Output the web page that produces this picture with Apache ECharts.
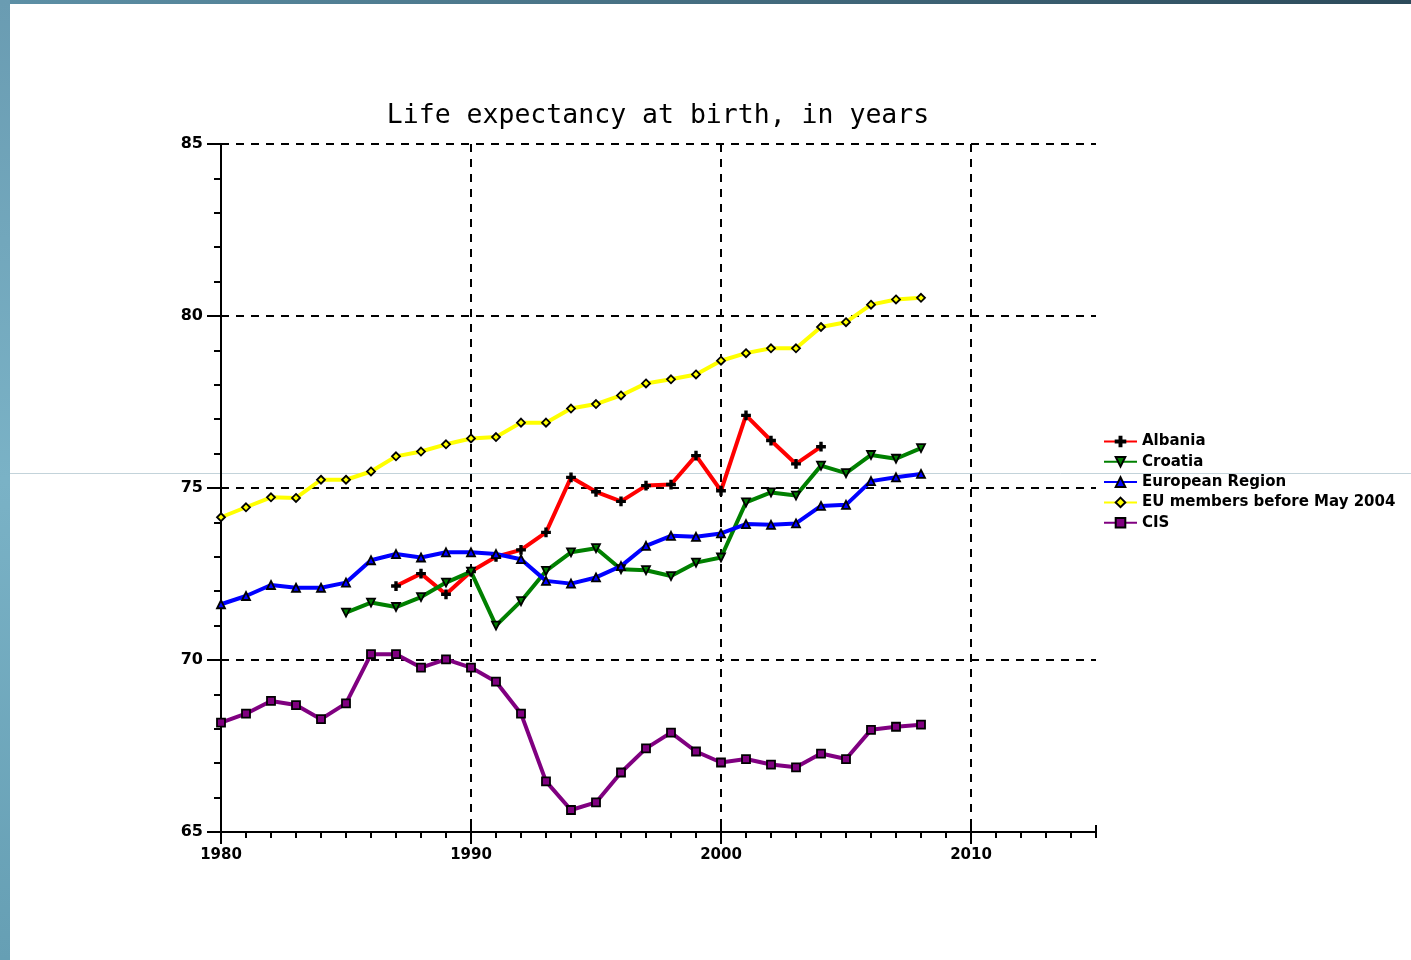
<!DOCTYPE html>
<html>
<head>
<meta charset="utf-8">
<script src="https://cdn.jsdelivr.net/npm/echarts@6/dist/echarts.min.js"></script>
<style>
  html, body { margin: 0; padding: 0; background: #fff; }
  #main { width: 1411px; height: 960px; }
</style>
</head>
<body>
<div id="main"></div>
<script>
var years = [1980, 1981, 1982, 1983, 1984, 1985, 1986, 1987, 1988, 1989,
    1990, 1991, 1992, 1993, 1994, 1995, 1996, 1997, 1998, 1999,
    2000, 2001, 2002, 2003, 2004, 2005, 2006, 2007, 2008];

var albania = [null, null, null, null, null, null, null,
    72.15, 72.51, 71.91, 72.57, 73.0, 73.2, 73.71, 75.31, 74.89, 74.61, 75.07,
    75.1, 75.94, 74.92, 77.11, 76.38, 75.7, 76.2, null, null, null, null];
var croatia = [null, null, null, null, null,
    71.38, 71.67, 71.54, 71.83, 72.25, 72.57, 71.0, 71.71, 72.59, 73.13, 73.25,
    72.64, 72.61, 72.44, 72.83, 72.98, 74.58, 74.87, 74.78, 75.65, 75.43, 75.96,
    75.85, 76.16];
var europeanRegion = [71.62, 71.86, 72.18, 72.1, 72.1, 72.25, 72.9, 73.08, 72.98,
    73.13, 73.13, 73.08, 72.93, 72.3, 72.22, 72.4, 72.73, 73.32, 73.61, 73.58,
    73.68, 73.95, 73.93, 73.97, 74.48, 74.51, 75.2, 75.31, 75.41];
var euBefore2004 = [74.15, 74.44, 74.73, 74.71, 75.24, 75.24, 75.48, 75.92, 76.06,
    76.27, 76.44, 76.48, 76.9, 76.9, 77.31, 77.44, 77.69, 78.04, 78.16, 78.3,
    78.7, 78.92, 79.06, 79.06, 79.68, 79.82, 80.33, 80.48, 80.53];
var cis = [68.18, 68.44, 68.81, 68.69, 68.28, 68.74, 70.17, 70.17, 69.78, 70.02,
    69.78, 69.37, 68.44, 66.47, 65.64, 65.86, 66.73, 67.43, 67.89, 67.34,
    67.02, 67.12, 66.96, 66.88, 67.28, 67.12, 67.97, 68.06, 68.12];

var seriesNames = ["Albania", "Croatia", "European Region", "EU members before May 2004", "CIS"];
var seriesColors = ["#ff0000", "#008000", "#0000ff", "#ffff00", "#800080"];
var seriesSymbols = [
    "path://M4,0H6V4H10V6H6V10H4V6H0V4H4Z",
    "path://M0,0H10L5,10Z",
    "triangle",
    "diamond",
    "rect"
];

function pairs(vals) {
    var out = [];
    for (var i = 0; i < years.length; i++) {
        out.push([years[i], vals[i]]);
    }
    return out;
}

var allValues = [albania, croatia, europeanRegion, euBefore2004, cis];
var series = [];
for (var s = 0; s < seriesNames.length; s++) {
    series.push({
        name: seriesNames[s],
        type: "line",
        xAxisIndex: 0,
        yAxisIndex: 0,
        data: pairs(allValues[s]),
        symbol: seriesSymbols[s],
        symbolSize: 8,
        showAllSymbol: true,
        connectNulls: false,
        lineStyle: { color: seriesColors[s], width: 4 },
        itemStyle: { color: seriesColors[s], borderColor: "#000", borderWidth: 1.8 },
        emphasis: { disabled: true }
    });
}

var tickStyle = { color: "#000", width: 2 };

var myChart = echarts.init(document.getElementById("main"));
var option = {
    backgroundColor: "#fff",
    animation: false,
    title: {
        text: "Life expectancy at birth, in years",
        left: 653,
        top: 98,
        textAlign: "center",
        textStyle: {
            fontFamily: "DejaVu Sans Mono",
            fontWeight: "normal",
            fontSize: 26.5,
            color: "#000"
        }
    },
    graphic: [
        {
            type: "rect",
            z: -10,
            shape: { x: 0, y: 0, width: 1411, height: 4 },
            style: {
                fill: new echarts.graphic.LinearGradient(0, 0, 1, 0, [
                    { offset: 0, color: "#5d90a6" },
                    { offset: 1, color: "#2c4a5a" }
                ])
            }
        },
        {
            type: "rect",
            z: -10,
            shape: { x: 0, y: 0, width: 10, height: 960 },
            style: {
                fill: new echarts.graphic.LinearGradient(0, 0, 0, 1, [
                    { offset: 0, color: "#6a9cb2" },
                    { offset: 0.5, color: "#7ab2c6" },
                    { offset: 1, color: "#669fb4" }
                ])
            }
        },
        {
            type: "line",
            z: -10,
            shape: { x1: 10, y1: 473.5, x2: 1411, y2: 473.5 },
            style: { stroke: "#c3d3da", lineWidth: 1 }
        }
    ],
    legend: {
        orient: "vertical",
        left: 1103,
        top: 434,
        itemWidth: 33,
        itemHeight: 12,
        itemGap: 5.3,
        itemTextGap: 7,
        padding: 0,
        data: seriesNames,
        textStyle: {
            fontFamily: "DejaVu Sans",
            fontWeight: "bold",
            fontSize: 15,
            color: "#000"
        }
    },
    grid: {
        left: 221,
        top: 144,
        right: 315,
        bottom: 128,
        containLabel: false
    },
    xAxis: [
        {
            type: "value",
            position: "bottom",
            min: 1980,
            max: 2015,
            interval: 10,
            axisLine: { show: true, onZero: false, lineStyle: { color: "#000", width: 2 } },
            axisTick: { show: true, inside: false, length: 12, lineStyle: tickStyle },
            axisLabel: {
                show: true,
                margin: 16,
                showMaxLabel: false,
                formatter: function (v) { return String(v); },
                color: "#000",
                fontFamily: "DejaVu Sans",
                fontWeight: "bold",
                fontSize: 15
            },
            splitLine: {
                show: true,
                showMinLine: false,
                showMaxLine: false,
                lineStyle: { color: "#000", width: 2, type: [8, 7] }
            }
        },
        {
            type: "value",
            position: "bottom",
            min: 1980,
            max: 2015,
            interval: 1,
            axisLine: { show: false },
            axisTick: { show: true, inside: false, length: 6, lineStyle: tickStyle },
            axisLabel: { show: false },
            splitLine: { show: false }
        },
        {
            type: "value",
            position: "bottom",
            min: 1980,
            max: 2015,
            interval: 10,
            axisLine: { show: false },
            axisTick: { show: true, inside: true, length: 7, lineStyle: tickStyle },
            axisLabel: { show: false },
            splitLine: { show: false }
        }
    ],
    yAxis: [
        {
            type: "value",
            position: "left",
            min: 65,
            max: 85,
            interval: 5,
            axisLine: { show: true, onZero: false, lineStyle: { color: "#000", width: 2 } },
            axisTick: { show: true, inside: false, length: 14, lineStyle: tickStyle },
            minorTick: { show: true, splitNumber: 5, length: 7, lineStyle: tickStyle },
            axisLabel: {
                margin: 18,
                color: "#000",
                fontFamily: "DejaVu Sans",
                fontWeight: "bold",
                fontSize: 16
            },
            splitLine: {
                show: true,
                showMinLine: false,
                lineStyle: { color: "#000", width: 2, type: [8, 7] }
            }
        },
        {
            type: "value",
            position: "left",
            min: 65,
            max: 85,
            interval: 5,
            axisLine: { show: false },
            axisTick: { show: true, inside: true, length: 7, lineStyle: tickStyle },
            axisLabel: { show: false },
            splitLine: { show: false }
        }
    ],
    series: series
};
myChart.setOption(option);
</script>
</body>
</html>
